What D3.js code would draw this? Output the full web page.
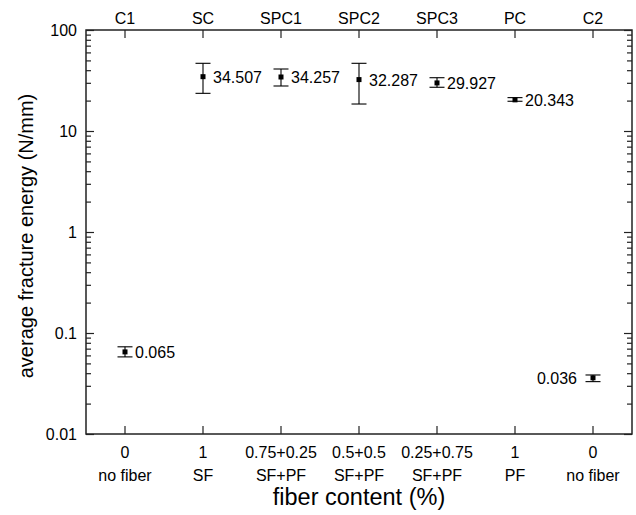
<!DOCTYPE html>
<html><head><meta charset="utf-8">
<script src="https://cdn.jsdelivr.net/npm/d3@7"></script>
<style>
body{margin:0;background:#fff;}
text{font-family:"Liberation Sans",Arial,sans-serif;fill:#000;}
</style></head>
<body><svg id="c" width="636" height="515"></svg>
<script>
const categories = ["C1","SC","SPC1","SPC2","SPC3","PC","C2"];
const contentLabels = ["0","1","0.75+0.25","0.5+0.5","0.25+0.75","1","0"];
const fiberLabels = ["no fiber","SF","SF+PF","SF+PF","SF+PF","PF","no fiber"];
const means = [0.065,34.507,34.257,32.287,29.927,20.343,0.036];
const upper = [0.073,46.8,41.1,46.8,33.7,21.4,0.0384];
const lower = [0.058,23.6,27.9,18.5,27.1,19.7,0.033];
const yTicks = [0.01,0.1,1,10,100];

const svg = d3.select("#c");
const m = {l:86, r:632, t:30, b:434};
const x = d3.scaleBand().domain(categories).range([m.l,m.r]).padding(0);
const y = d3.scaleLog().domain([0.01,100]).range([m.b,m.t]);

const minor = [];
for (let e=-2;e<2;e++) for (let k=2;k<=9;k++) minor.push(k*Math.pow(10,e));

const axisColor="#222";
svg.append("rect").attr("x",m.l).attr("y",m.t).attr("width",m.r-m.l).attr("height",m.b-m.t)
  .attr("fill","none").attr("stroke",axisColor).attr("stroke-width",1.5);

function styleAxis(g){ g.select(".domain").remove(); g.selectAll("line").attr("stroke",axisColor).attr("stroke-width",1.2); }
const fs = 16;

svg.append("g").attr("transform",`translate(${m.l},0)`)
  .call(d3.axisLeft(y).tickValues(yTicks).tickFormat(d=>String(d)).tickSizeInner(-8).tickPadding(9))
  .call(styleAxis).call(g=>g.selectAll("text").attr("font-size",fs).attr("fill","#000"));
svg.append("g").attr("transform",`translate(${m.l},0)`)
  .call(d3.axisLeft(y).tickValues(minor).tickFormat("").tickSizeInner(-5)).call(styleAxis);
svg.append("g").attr("transform",`translate(${m.r},0)`)
  .call(d3.axisRight(y).tickValues(yTicks).tickFormat("").tickSizeInner(-8)).call(styleAxis);
svg.append("g").attr("transform",`translate(${m.r},0)`)
  .call(d3.axisRight(y).tickValues(minor).tickFormat("").tickSizeInner(-5)).call(styleAxis);
svg.append("g").attr("transform",`translate(0,${m.t})`)
  .call(d3.axisTop(x).tickSizeInner(-8).tickSizeOuter(0).tickPadding(6))
  .call(styleAxis).call(g=>g.selectAll("text").attr("font-size",fs).attr("fill","#000"));
svg.append("g").attr("transform",`translate(0,${m.b})`)
  .call(d3.axisBottom(x).tickSizeInner(-8).tickSizeOuter(0).tickFormat(""))
  .call(styleAxis);
svg.append("g").selectAll("text").data(categories).join("text")
  .attr("x",d=>x(d)+x.bandwidth()/2).attr("y",458).attr("text-anchor","middle").attr("font-size",fs)
  .text((d,i)=>contentLabels[i]);
svg.append("g").selectAll("text").data(categories).join("text")
  .attr("x",d=>x(d)+x.bandwidth()/2).attr("y",481).attr("text-anchor","middle").attr("font-size",fs)
  .text((d,i)=>fiberLabels[i]);

const cx = i=>x(categories[i])+x.bandwidth()/2;
const cap = 7.5;
const eg = svg.append("g").attr("stroke","#000").attr("stroke-width",1.1);
means.forEach((v,i)=>{
  eg.append("line").attr("x1",cx(i)).attr("x2",cx(i)).attr("y1",y(upper[i])).attr("y2",y(lower[i]));
  eg.append("line").attr("x1",cx(i)-cap).attr("x2",cx(i)+cap).attr("y1",y(upper[i])).attr("y2",y(upper[i]));
  eg.append("line").attr("x1",cx(i)-cap).attr("x2",cx(i)+cap).attr("y1",y(lower[i])).attr("y2",y(lower[i]));
});
svg.append("g").selectAll("rect").data(means).join("rect")
  .attr("x",(d,i)=>cx(i)-2.5).attr("y",d=>y(d)-2.5).attr("width",5).attr("height",5).attr("fill","#000");
svg.append("g").selectAll("text").data(means).join("text")
  .attr("x",(d,i)=> i===6 ? cx(i)-16 : cx(i)+10)
  .attr("y",d=>y(d)+6)
  .attr("text-anchor",(d,i)=> i===6 ? "end":"start")
  .attr("font-size",fs)
  .text(d=>d.toFixed(3));

svg.append("text").attr("x",(m.l+m.r)/2).attr("y",505).attr("text-anchor","middle").attr("font-size",23.5)
  .text("fiber content (%)");
svg.append("text").attr("transform",`translate(33,${(m.t+m.b)/2+4}) rotate(-90)`).attr("text-anchor","middle").attr("font-size",20)
  .text("average fracture energy (N/mm)");
</script></body></html>
